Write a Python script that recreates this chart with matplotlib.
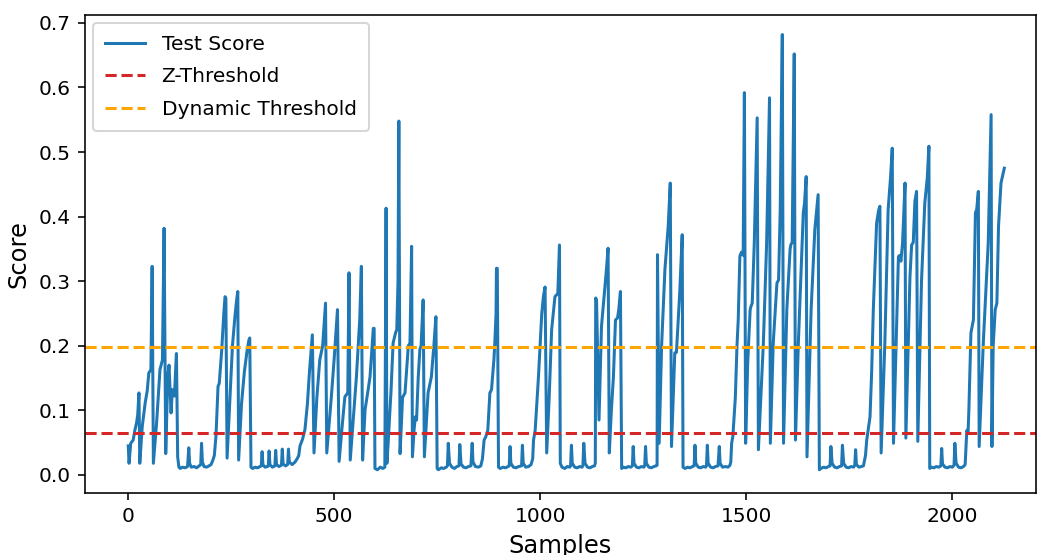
import numpy as np
import matplotlib
matplotlib.use("Agg")
import matplotlib.pyplot as plt

# thresholds
z_threshold = 0.065
dynamic_threshold = 0.198

# test score as (sample, score) knots per segment
burst1 = [(0, 0.045), (2, 0.018), (6, 0.049), (12, 0.054), (16, 0.069), (20, 0.08),
          (23, 0.093), (26, 0.127), (28, 0.018), (34, 0.075), (41, 0.111), (46, 0.13),
          (50, 0.158), (55, 0.163), (58, 0.323), (61, 0.018), (69, 0.082), (77, 0.163),
          (83, 0.178), (87, 0.382), (91, 0.033), (96, 0.152), (99, 0.17), (104, 0.096),
          (107, 0.132), (112, 0.122), (117, 0.188), (120, 0.028), (123, 0.012)]
quiet1 = [(126, 0.010), (132, 0.012), (138, 0.011), (144, 0.013), (147, 0.042),
          (149, 0.018), (153, 0.012), (160, 0.013), (166, 0.011), (172, 0.014),
          (176, 0.016), (178, 0.049), (180, 0.02), (184, 0.013), (190, 0.012),
          (196, 0.014), (201, 0.016), (205, 0.022)]
burst2 = [(209, 0.03), (213, 0.06), (218, 0.137), (221, 0.142), (227, 0.194), (232, 0.25),
          (235, 0.276), (237, 0.274), (240, 0.026), (247, 0.12), (253, 0.2), (259, 0.245),
          (263, 0.27), (266, 0.284), (268, 0.023), (275, 0.11), (282, 0.16), (288, 0.19),
          (293, 0.209), (295, 0.212), (298, 0.012)]
quiet2 = [(302, 0.010), (308, 0.012), (314, 0.011), (320, 0.013), (323, 0.014), (325, 0.036),
          (327, 0.016), (332, 0.012), (338, 0.013), (340, 0.014), (342, 0.037), (344, 0.016),
          (350, 0.012), (356, 0.014), (358, 0.038), (360, 0.016), (366, 0.013), (372, 0.015),
          (374, 0.04), (376, 0.017), (382, 0.014), (387, 0.016), (389, 0.04), (391, 0.02),
          (398, 0.016), (405, 0.02), (410, 0.025), (414, 0.03), (417, 0.045)]
burst3 = [(423, 0.055), (429, 0.07), (435, 0.11), (440, 0.16), (447, 0.217), (451, 0.034),
          (458, 0.12), (465, 0.178), (472, 0.2), (479, 0.266), (482, 0.034), (486, 0.065),
          (493, 0.12), (500, 0.18), (508, 0.256), (512, 0.021), (520, 0.08), (526, 0.121),
          (533, 0.127), (536, 0.313), (539, 0.023), (548, 0.1), (554, 0.152), (562, 0.24),
          (566, 0.323), (569, 0.023), (575, 0.101), (582, 0.13), (587, 0.152), (592, 0.2),
          (595, 0.227), (597, 0.227), (599, 0.010), (605, 0.008), (612, 0.012), (618, 0.010),
          (623, 0.012), (626, 0.413), (628, 0.018), (631, 0.049), (638, 0.13), (643, 0.204),
          (649, 0.22), (652, 0.225), (655, 0.3), (657, 0.548), (660, 0.033), (666, 0.12),
          (672, 0.127), (680, 0.2), (684, 0.204), (688, 0.354), (690, 0.028), (694, 0.07),
          (697, 0.09), (700, 0.085), (704, 0.15), (708, 0.194), (711, 0.2), (716, 0.271),
          (719, 0.028), (728, 0.127), (736, 0.152), (742, 0.2), (747, 0.245), (750, 0.010)]
quiet3 = [(753, 0.008), (760, 0.011), (766, 0.010), (772, 0.012), (775, 0.014), (777, 0.049),
          (780, 0.018), (786, 0.012), (792, 0.010), (798, 0.013), (803, 0.014), (805, 0.047),
          (808, 0.017), (814, 0.012), (820, 0.011), (826, 0.013), (832, 0.014), (835, 0.049),
          (837, 0.02), (843, 0.013), (850, 0.012), (856, 0.014), (860, 0.025), (864, 0.054)]
burst4 = [(868, 0.059), (873, 0.069), (878, 0.127), (882, 0.132), (888, 0.18), (890, 0.204),
          (893, 0.25), (894, 0.32), (896, 0.32), (899, 0.012)]
quiet4 = [(903, 0.010), (910, 0.012), (916, 0.011), (922, 0.013), (925, 0.014), (927, 0.044),
          (929, 0.018), (935, 0.012), (941, 0.011), (948, 0.013), (955, 0.014), (957, 0.046),
          (959, 0.018), (965, 0.012), (972, 0.013), (978, 0.016), (982, 0.025)]
burst5 = [(984, 0.054), (988, 0.069), (996, 0.152), (1000, 0.2), (1004, 0.25), (1008, 0.276),
          (1012, 0.291), (1016, 0.034), (1022, 0.12), (1028, 0.225), (1036, 0.276),
          (1043, 0.281), (1047, 0.356), (1049, 0.018)]
quiet5 = [(1053, 0.012), (1060, 0.010), (1066, 0.013), (1072, 0.012), (1074, 0.014),
          (1076, 0.046), (1078, 0.018), (1084, 0.012), (1090, 0.011), (1096, 0.013),
          (1102, 0.012), (1104, 0.015), (1106, 0.049), (1109, 0.018), (1115, 0.012),
          (1121, 0.011), (1127, 0.013), (1132, 0.014), (1134, 0.018)]
burst6 = [(1135, 0.274), (1137, 0.27), (1143, 0.085), (1149, 0.23), (1156, 0.282),
          (1161, 0.318), (1165, 0.351), (1168, 0.034), (1173, 0.1), (1178, 0.152),
          (1183, 0.24), (1188, 0.243), (1191, 0.256), (1195, 0.284), (1198, 0.010)]
quiet6 = [(1202, 0.012), (1208, 0.011), (1214, 0.013), (1220, 0.012), (1224, 0.014),
          (1226, 0.044), (1228, 0.018), (1234, 0.012), (1240, 0.011), (1246, 0.013),
          (1252, 0.012), (1254, 0.015), (1256, 0.044), (1258, 0.018), (1264, 0.012),
          (1270, 0.011), (1276, 0.013), (1282, 0.014), (1284, 0.015)]
burst7 = [(1285, 0.341), (1289, 0.049), (1295, 0.2), (1303, 0.318), (1311, 0.385),
          (1316, 0.452), (1319, 0.044), (1327, 0.189), (1331, 0.19), (1339, 0.282),
          (1345, 0.372), (1347, 0.012)]
quiet7 = [(1352, 0.010), (1358, 0.012), (1364, 0.011), (1370, 0.013), (1374, 0.014),
          (1376, 0.046), (1378, 0.018), (1384, 0.012), (1390, 0.011), (1396, 0.013),
          (1402, 0.012), (1404, 0.014), (1406, 0.046), (1408, 0.018), (1414, 0.012),
          (1420, 0.011), (1426, 0.013), (1432, 0.014), (1435, 0.044), (1437, 0.018),
          (1443, 0.012), (1450, 0.013), (1456, 0.012), (1461, 0.015), (1463, 0.02)]
burst8 = [(1465, 0.049), (1468, 0.06), (1471, 0.09), (1474, 0.12), (1478, 0.2), (1481, 0.24),
          (1485, 0.339), (1489, 0.345), (1493, 0.34), (1496, 0.592), (1499, 0.049),
          (1504, 0.173), (1510, 0.256), (1512, 0.261), (1515, 0.266), (1520, 0.359),
          (1527, 0.553), (1530, 0.039), (1542, 0.204), (1550, 0.359), (1557, 0.584),
          (1559, 0.049), (1566, 0.204), (1575, 0.297), (1579, 0.302), (1583, 0.411),
          (1588, 0.682), (1591, 0.049), (1599, 0.256), (1607, 0.35), (1609, 0.357),
          (1612, 0.36), (1617, 0.652), (1620, 0.054), (1627, 0.204), (1639, 0.406),
          (1642, 0.421), (1646, 0.462), (1648, 0.028), (1658, 0.256), (1667, 0.38),
          (1675, 0.434), (1678, 0.008)]
quiet8 = [(1682, 0.010), (1688, 0.012), (1694, 0.011), (1700, 0.013), (1704, 0.014),
          (1706, 0.044), (1709, 0.018), (1715, 0.012), (1721, 0.011), (1727, 0.013),
          (1732, 0.014), (1734, 0.046), (1737, 0.018), (1743, 0.012), (1749, 0.011),
          (1755, 0.013), (1761, 0.012), (1764, 0.015), (1766, 0.039), (1768, 0.016),
          (1774, 0.012), (1780, 0.013), (1785, 0.014)]
burst9 = [(1790, 0.03), (1793, 0.054), (1801, 0.09), (1805, 0.16), (1809, 0.256),
          (1817, 0.39), (1822, 0.41), (1825, 0.416), (1828, 0.034), (1837, 0.204),
          (1845, 0.411), (1851, 0.462), (1855, 0.506), (1858, 0.049), (1870, 0.338),
          (1873, 0.34), (1876, 0.331), (1880, 0.359), (1886, 0.452), (1888, 0.057),
          (1898, 0.307), (1902, 0.356), (1906, 0.36), (1910, 0.424), (1914, 0.439),
          (1917, 0.052), (1926, 0.3), (1934, 0.421), (1940, 0.46), (1944, 0.509),
          (1946, 0.010)]
quiet9 = [(1950, 0.012), (1956, 0.011), (1962, 0.013), (1968, 0.012), (1973, 0.014),
          (1975, 0.041), (1977, 0.017), (1983, 0.012), (1989, 0.011), (1995, 0.013),
          (2001, 0.012), (2005, 0.015), (2007, 0.049), (2010, 0.018), (2016, 0.012),
          (2022, 0.011), (2028, 0.013), (2032, 0.016)]
burst10 = [(2036, 0.069), (2039, 0.065), (2041, 0.1), (2046, 0.22), (2052, 0.24),
           (2057, 0.406), (2060, 0.411), (2064, 0.439), (2066, 0.044), (2076, 0.204),
           (2088, 0.359), (2095, 0.558), (2097, 0.044), (2100, 0.2), (2105, 0.256),
           (2109, 0.266), (2113, 0.385), (2119, 0.452), (2127, 0.475)]

segments = [burst1, quiet1, burst2, quiet2, burst3, quiet3, burst4, quiet4, burst5,
            quiet5, burst6, quiet6, burst7, quiet7, burst8, quiet8, burst9, quiet9, burst10]
pts = np.array([p for seg in segments for p in seg])
samples, scores = pts[:, 0], pts[:, 1]

dpi = 145
fig = plt.figure(figsize=(1038 / dpi, 555 / dpi), dpi=dpi)
ax = fig.add_axes([85 / 1038, 62 / 555, 951 / 1038, 478.5 / 555])

ax.plot(samples, scores, label="Test Score")
ax.axhline(z_threshold, color="tab:red", linestyle="--", label="Z-Threshold")
ax.axhline(dynamic_threshold, color="orange", linestyle="--", label="Dynamic Threshold")

ax.set_xlim(-105, 2204)
ax.set_ylim(-0.028, 0.713)
ax.set_xlabel("Samples", fontsize=12)
ax.set_ylabel("Score", fontsize=12)
# legend a bit more spread out than the default, as in the original
ax.legend(loc="upper left", labelspacing=0.68, borderpad=0.6, borderaxespad=0.4)

fig.savefig("out.png", dpi=dpi)
